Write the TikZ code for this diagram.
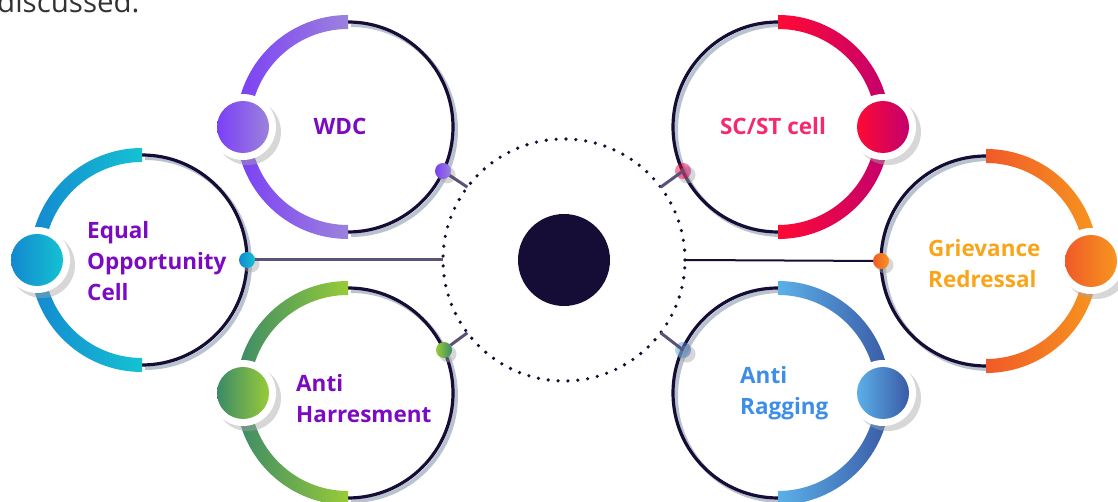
\documentclass[tikz,border=0pt]{standalone}
\usepackage{fontspec}
\setmainfont{Open Sans}

\definecolor{ink}{HTML}{150D35}
\definecolor{linkc}{HTML}{5B5278}
\definecolor{shadowc}{HTML}{B9C3CF}
\definecolor{topgray}{HTML}{333333}
\definecolor{wdcA}{HTML}{7B3FF5}
\definecolor{wdcB}{HTML}{9B82DC}
\definecolor{eocA}{HTML}{1488D0}
\definecolor{eocB}{HTML}{14C2D2}
\definecolor{ahA}{HTML}{3B8A68}
\definecolor{ahB}{HTML}{98CB38}
\definecolor{scA}{HTML}{FF0A34}
\definecolor{scB}{HTML}{C2006E}
\definecolor{grA}{HTML}{F05A28}
\definecolor{grB}{HTML}{F7961E}
\definecolor{arA}{HTML}{5BB0E8}
\definecolor{arB}{HTML}{3A5AA6}
\definecolor{purpletext}{HTML}{7B0BC0}
\definecolor{sctext}{HTML}{F52A6E}
\definecolor{grtext}{HTML}{F9A51A}
\definecolor{artext}{HTML}{3E8EE8}

\begin{document}
\begin{tikzpicture}[x=1pt,y=1pt,
  ring/.style={line width=3.2pt, draw=ink},
  ringshadow/.style={line width=4pt, draw=shadowc},
  link/.style={line width=3pt, draw=linkc},
  halo/.style={circle, fill=white, minimum size=66pt, inner sep=0pt},
  haloshadow/.style={circle, fill=gray!70, opacity=.45, minimum size=66pt, inner sep=0pt},
  bigdot/.style={circle, minimum size=52pt, inner sep=0pt},
  pin/.style={circle, minimum size=16pt, inner sep=0pt, outer sep=0pt},
  pinshadow/.style={circle, fill=gray!70, opacity=.45, minimum size=17pt, inner sep=0pt},
  caption/.style={font=\bfseries\fontsize{22.5}{31}\selectfont, inner sep=0pt, align=left}]

\useasboundingbox (0,0) rectangle (1118,502);

% word cut off at the top
\node[anchor=base west, inner sep=0pt, text=topgray, font=\fontsize{29.5}{34}\selectfont] (toptext) at (-3,489) {discussed.};

% Rings on the left: colour on the left half
\draw[ringshadow] (351,477) arc[start angle=90,end angle=-90,radius=105]; % WDC
\draw[ring] (348,480) arc[start angle=90,end angle=-90,radius=105];
\shade[left color=wdcA,right color=wdcB] (348,487) arc[start angle=90,end angle=270,radius=112] -- (348,277) arc[start angle=270,end angle=90,radius=98] -- cycle;

\draw[ringshadow] (145,344) arc[start angle=90,end angle=-90,radius=105]; % Equal Opportunity
\draw[ring] (142,347) arc[start angle=90,end angle=-90,radius=105];
\shade[left color=eocA,right color=eocB] (142,354) arc[start angle=90,end angle=270,radius=112] -- (142,144) arc[start angle=270,end angle=90,radius=98] -- cycle;

\draw[ringshadow] (351,211) arc[start angle=90,end angle=-90,radius=105]; % Anti Harresment
\draw[ring] (348,214) arc[start angle=90,end angle=-90,radius=105];
\shade[left color=ahA,right color=ahB] (348,221) arc[start angle=90,end angle=270,radius=112] -- (348,11) arc[start angle=270,end angle=90,radius=98] -- cycle;

% Rings on the right: colour on the right half
\draw[ringshadow] (781,477) arc[start angle=90,end angle=270,radius=105]; % SC/ST
\draw[ring] (778,480) arc[start angle=90,end angle=270,radius=105];
\shade[left color=scA,right color=scB] (778,487) arc[start angle=90,end angle=-90,radius=112] -- (778,277) arc[start angle=-90,end angle=90,radius=98] -- cycle;

\draw[ringshadow] (989,343) arc[start angle=90,end angle=270,radius=105]; % Grievance
\draw[ring] (986,346) arc[start angle=90,end angle=270,radius=105];
\shade[left color=grA,right color=grB] (986,353) arc[start angle=90,end angle=-90,radius=112] -- (986,143) arc[start angle=-90,end angle=90,radius=98] -- cycle;

\draw[ringshadow] (781,211) arc[start angle=90,end angle=270,radius=105]; % Anti Ragging
\draw[ring] (778,214) arc[start angle=90,end angle=270,radius=105];
\shade[left color=arA,right color=arB] (778,221) arc[start angle=90,end angle=-90,radius=112] -- (778,11) arc[start angle=-90,end angle=90,radius=98] -- cycle;

% Hub
\node[circle, fill=ink, minimum size=92pt, inner sep=0pt] (core) at (564,242) {};
\node[circle, draw=ink, line width=3.6pt, dash pattern=on 0pt off 9.9pt, line cap=round, minimum size=242pt, inner sep=0pt, outer sep=0pt] (hub) at (564,242) {};

% Pins on the rings
\node[pinshadow] (wdcpinsh) at (447,327) {};
\node[pin, left color=wdcA, right color=wdcB] (wdcpin) at (443,331) {};
\node[pinshadow] (eocpinsh) at (251,238) {};
\node[pin, left color=eocA, right color=eocB] (eocpin) at (247,242) {};
\node[pinshadow] (ahpinsh) at (448,148) {};
\node[pin, left color=ahB, right color=ahA] (ahpin) at (444,152) {};
\node[pinshadow] (scpinsh) at (687,327) {};
\node[pin, left color=scA, right color=scB, opacity=.5] (scpin) at (683,331) {};
\node[pinshadow] (grpinsh) at (885,237) {};
\node[pin, left color=grA, right color=grB] (grpin) at (881,241) {};
\node[pinshadow] (arpinsh) at (687,148) {};
\node[pin, left color=arA, right color=arB, opacity=.5] (arpin) at (683,152) {};

% Links to the hub
\draw[link] (wdcpin) -- (hub.143);
\draw[link] (eocpin) -- (hub.180);
\draw[link] (ahpin) -- (hub.217);
\draw[link] (scpin.center) -- (hub.37);
\draw[link, draw=ink, line width=2pt] (grpin) -- (hub.0);
\draw[link] (arpin.center) -- (hub.-37);

% Big dots with white halo
\node[haloshadow] (wdchalosh) at (248,370) {};
\node[halo] (wdchalo) at (243,375) {};
\node[bigdot, left color=wdcA, right color=wdcB] (wdcdot) at (243,375) {};
\node[haloshadow] (eochalosh) at (42,237) {};
\node[halo] (eochalo) at (37,242) {};
\node[bigdot, left color=eocA, right color=eocB] (eocdot) at (37,242) {};
\node[haloshadow] (ahhalosh) at (248,104) {};
\node[halo] (ahhalo) at (243,109) {};
\node[bigdot, left color=ahA, right color=ahB] (ahdot) at (243,109) {};
\node[haloshadow] (schalosh) at (888,370) {};
\node[halo] (schalo) at (883,375) {};
\node[bigdot, left color=scA, right color=scB] (scdot) at (883,375) {};
\node[haloshadow] (grhalosh) at (1096,236) {};
\node[halo] (grhalo) at (1091,241) {};
\node[bigdot, left color=grA, right color=grB] (grdot) at (1091,241) {};
\node[haloshadow] (arhalosh) at (888,104) {};
\node[halo] (arhalo) at (883,109) {};
\node[bigdot, left color=arA, right color=arB] (ardot) at (883,109) {};

% Labels
\node[caption, text=purpletext] (wdclabel) at (340,376) {WDC};
\node[caption, text=purpletext, anchor=west] (eoclabel) at (87,241) {Equal\\Opportunity\\Cell};
\node[caption, text=purpletext, anchor=west] (ahlabel) at (296,103) {Anti\\Harresment};
\node[caption, text=sctext] (sclabel) at (773,376) {SC/ST cell};
\node[caption, text=grtext, anchor=west] (grlabel) at (928,238) {Grievance\\Redressal};
\node[caption, text=artext, anchor=west] (arlabel) at (740,109) {Anti\\Ragging};
\end{tikzpicture}
\end{document}
